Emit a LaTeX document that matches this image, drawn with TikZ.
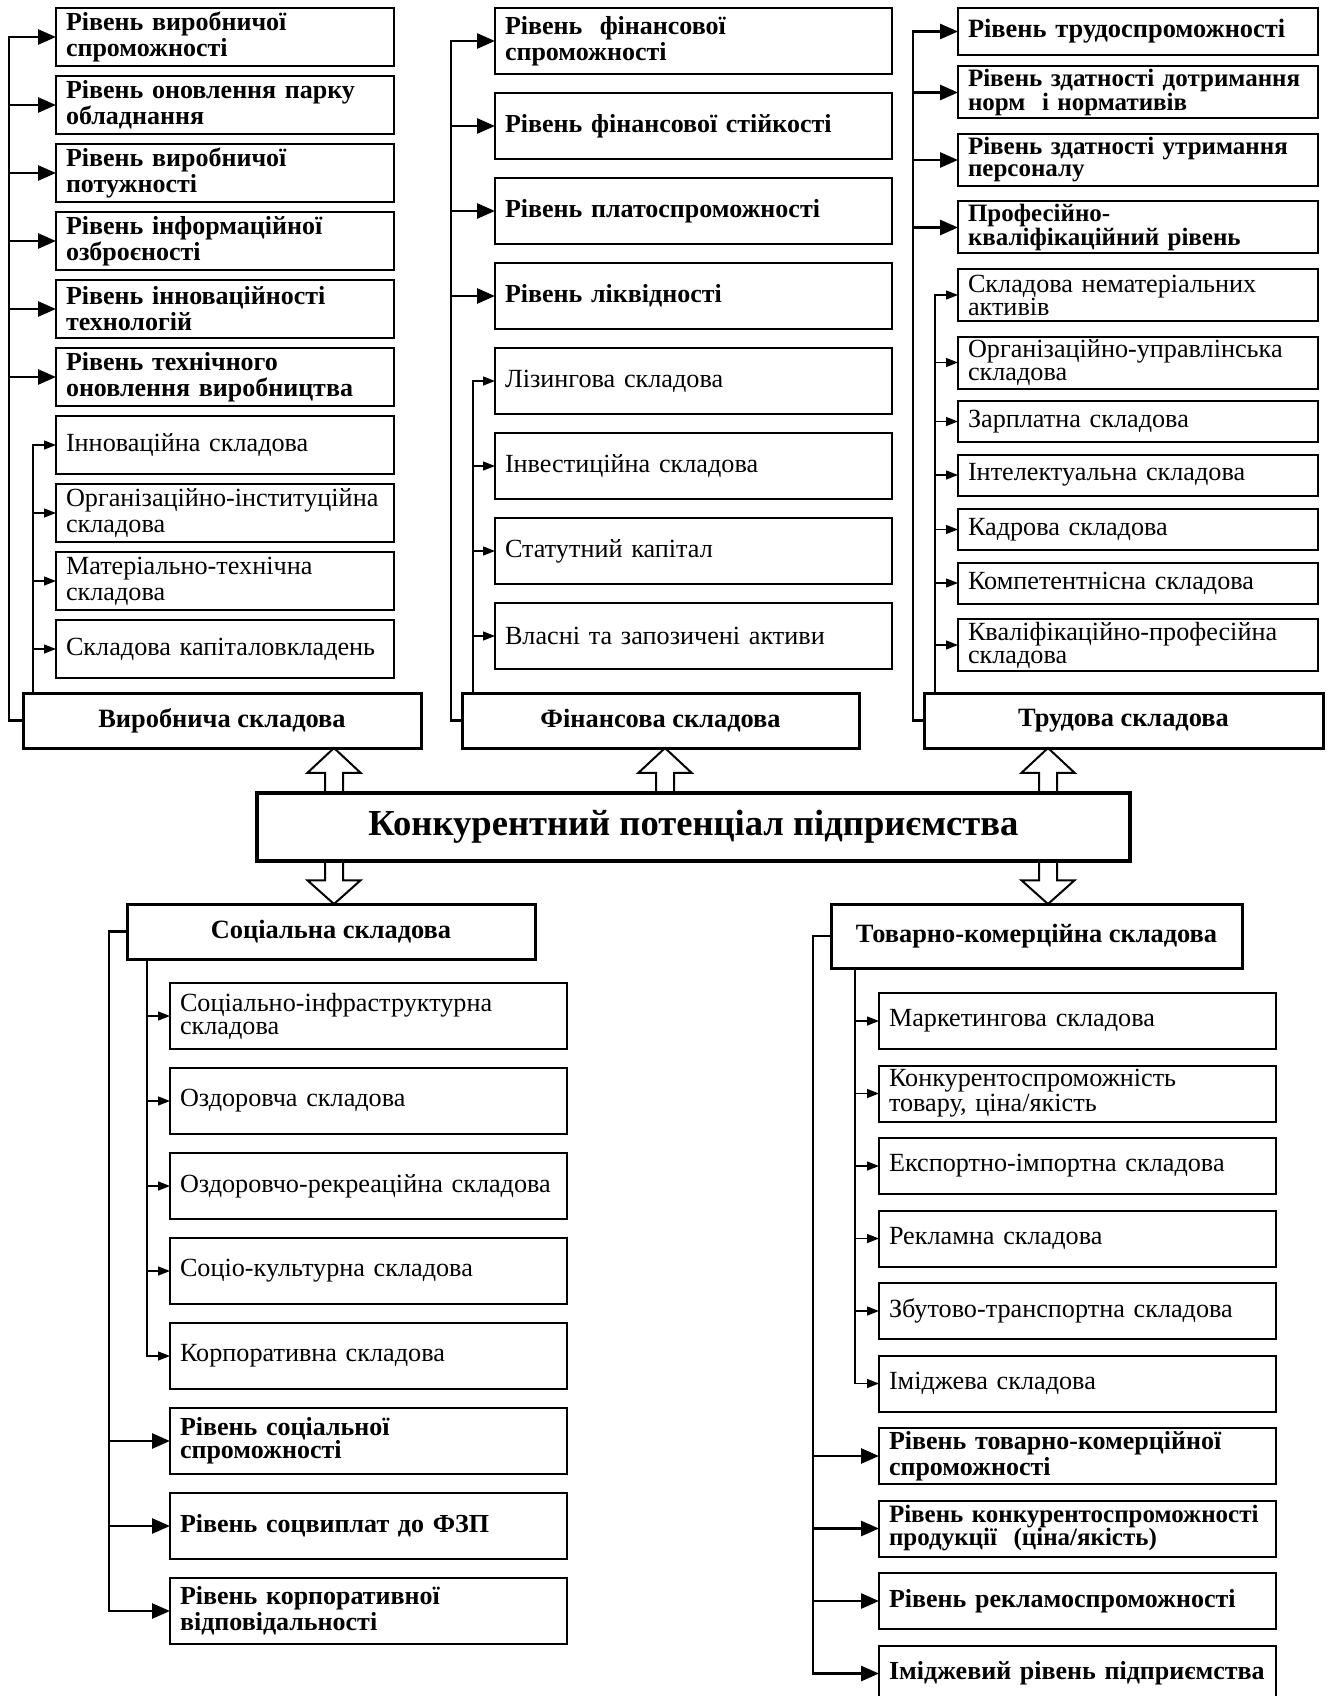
\documentclass[tikz,border=0pt]{standalone}
\usepackage{fontspec}
\setmainfont{Liberation Serif}
\usetikzlibrary{positioning, arrows.meta, calc}

% hollow block arrow between two points on one vertical
\newcommand{\fatarrow}[2]{%
  \draw[fatarr] ($(#1)+(-9,0)$) -- ($(#1)!0.45!(#2)+(-9,0)$)
    -- ($(#1)!0.45!(#2)+(-26.5,0)$) -- (#2)
    -- ($(#1)!0.45!(#2)+(26.5,0)$) -- ($(#1)!0.45!(#2)+(9,0)$)
    -- ($(#1)+(9,0)$);}

\begin{document}
\begin{tikzpicture}[
    x=0.5pt, y=-0.5pt,
    font=\fontsize{13.1}{11.5}\selectfont,
    box/.style={
        rectangle, draw=black, line width=1pt, align=left, outer sep=0pt,
        inner xsep=5pt, inner ysep=0pt, anchor=north west
    },
    part/.style={box},
    lvl/.style={box, font=\fontsize{13}{11.5}\selectfont\bfseries},
    colA/.style={text width=159pt, minimum height=29pt, font=\fontsize{13.1}{13}\selectfont},
    colAb/.style={colA, font=\fontsize{13}{13}\selectfont\bfseries},
    colB/.style={text width=188.5pt, minimum height=33pt},
    colC/.style={text width=170pt, minimum height=#1},
    colCb/.style={colC=#1, font=\fontsize{12.5}{11}\selectfont\bfseries},
    colD/.style={text width=188.5pt, minimum height=33pt},
    colE/.style={text width=188.5pt, minimum height=28pt},
    comp/.style={
        rectangle, draw=black, line width=1.5pt, align=center, outer sep=0pt,
        font=\fontsize{13.2}{14}\selectfont\bfseries, minimum height=27.5pt
    },
    core/.style={
        rectangle, draw=black, line width=1.6pt, align=center, outer sep=0pt,
        font=\fontsize{18.3}{20}\selectfont\bfseries,
        minimum width=436.5pt, minimum height=34pt
    },
    bus/.style={line width=1.35pt},
    busarr/.style={line width=1.35pt, -{Triangle[length=9pt, width=7.5pt]}},
    fine/.style={line width=0.65pt},
    finearr/.style={line width=0.65pt, -{Triangle[length=6pt, width=4.5pt]}},
    fatarr/.style={line width=1pt, fill=none}
]
\clip (0,0) rectangle (1330,1696);

% ---------------- Production ----------------
\node[lvl, colAb] at (56,8) (pv1) {Рівень виробничої\\спроможності};
\node[lvl, colAb, below=5pt of pv1] (pv2) {Рівень оновлення парку\\обладнання};
\node[lvl, colAb, below=5pt of pv2] (pv3) {Рівень виробничої\\потужності};
\node[lvl, colAb, below=5pt of pv3] (pv4) {Рівень інформаційної\\озброєності};
\node[lvl, colAb, below=5pt of pv4] (pv5) {Рівень інноваційності\\технологій};
\node[lvl, colAb, below=5pt of pv5] (pv6) {Рівень технічного\\оновлення виробництва};
\node[part, colA, below=5pt of pv6] (pc1) {Інноваційна складова};
\node[part, colA, below=5pt of pc1] (pc2) {Організаційно-інституційна\\складова};
\node[part, colA, below=5pt of pc2] (pc3) {Матеріально-технічна\\складова};
\node[part, colA, below=5pt of pc3] (pc4) {Складова капіталовкладень};
\node[comp, minimum width=199pt] at (222,720.5) (prod) {Виробнича складова};

% ---------------- Finance ----------------
\node[lvl, colB] at (495,8) (fv1) {Рівень\ \ фінансової\\спроможності};
\node[lvl, colB, below=9.5pt of fv1] (fv2) {Рівень фінансової стійкості};
\node[lvl, colB, below=9.5pt of fv2] (fv3) {Рівень платоспроможності};
\node[lvl, colB, below=9.5pt of fv3] (fv4) {Рівень ліквідності};
\node[part, colB, below=9.5pt of fv4] (fc1) {Лізингова складова};
\node[part, colB, below=9.5pt of fc1] (fc2) {Інвестиційна складова};
\node[part, colB, below=9.5pt of fc2] (fc3) {Статутний капітал};
\node[part, colB, below=9.5pt of fc3] (fc4) {Власні та запозичені активи};
\node[comp, minimum width=198.5pt] at (660.5,720.5) (fin) {Фінансова складова};

% ---------------- Labour ----------------
\node[lvl, colCb=23.5pt, font=\fontsize{13.2}{11}\selectfont\bfseries] at (958,8) (lv1) {Рівень трудоспроможності};
\node[lvl, colCb=26pt, below=5.75pt of lv1] (lv2) {Рівень здатності дотримання\\норм\ \ і нормативів};
\node[lvl, colCb=26pt, below=7.75pt of lv2] (lv3) {Рівень здатності утримання\\персоналу};
\node[lvl, colCb=26pt, below=7.75pt of lv3] (lv4) {Професійно-\\кваліфікаційний рівень};
\node[part, colC=26pt, below=7.75pt of lv4] (lc1) {Складова нематеріальних\\активів};
\node[part, colC=26pt, below=7.75pt of lc1] (lc2) {Організаційно-управлінська\\складова};
\node[part, colC=20.5pt, below=6.25pt of lc2] (lc3) {Зарплатна складова};
\node[part, colC=20.5pt, below=6.25pt of lc3] (lc4) {Інтелектуальна складова};
\node[part, colC=20.5pt, below=6.75pt of lc4] (lc5) {Кадрова складова};
\node[part, colC=20.5pt, below=6.25pt of lc5] (lc6) {Компетентнісна складова};
\node[part, colC=26pt, below=7.75pt of lc6] (lc7) {Кваліфікаційно-професійна\\складова};
\node[comp, minimum width=199.5pt] at (1123.5,720.5) (labour) {Трудова складова};

% ---------------- Core ----------------
\node[core] at (693.5,827) (core) {Конкурентний потенціал підприємства};

% ---------------- Social ----------------
\node[comp, minimum width=204pt] at (331,931.5) (social) {Соціальна складова};
\node[part, colD] at (170,983) (sc1) {Соціально-інфраструктурна\\складова};
\node[part, colD, below=9.5pt of sc1] (sc2) {Оздоровча складова};
\node[part, colD, below=9.5pt of sc2] (sc3) {Оздоровчо-рекреаційна складова};
\node[part, colD, below=9.5pt of sc3] (sc4) {Соціо-культурна складова};
\node[part, colD, below=9.5pt of sc4] (sc5) {Корпоративна складова};
\node[lvl, colD, below=9.5pt of sc5] (sv1) {Рівень соціальної\\спроможності};
\node[lvl, colD, below=9.5pt of sv1] (sv2) {Рівень соцвиплат до ФЗП};
\node[lvl, colD, below=9.5pt of sv2] (sv3) {Рівень корпоративної\\відповідальності};

% ---------------- Trade ----------------
\node[comp, minimum width=205.5pt, minimum height=32pt] at (1036.5,936) (trade) {Товарно-комерційна складова};
\node[part, colE] at (879,993) (tc1) {Маркетингова складова};
\node[part, colE, below=8.25pt of tc1] (tc2) {Конкурентоспроможність\\товару, ціна/якість};
\node[part, colE, below=8.25pt of tc2] (tc3) {Експортно-імпортна складова};
\node[part, colE, below=8.25pt of tc3] (tc4) {Рекламна складова};
\node[part, colE, below=8.25pt of tc4] (tc5) {Збутово-транспортна складова};
\node[part, colE, below=8.25pt of tc5] (tc6) {Іміджева складова};
\node[lvl, colE, below=8.25pt of tc6] (tv1) {Рівень товарно-комерційної\\спроможності};
\node[lvl, colE, below=8.25pt of tv1, font=\fontsize{12.5}{11.5}\selectfont\bfseries] (tv2) {Рівень конкурентоспроможності\\продукції\ \ (ціна/якість)};
\node[lvl, colE, below=8.25pt of tv2] (tv3) {Рівень рекламоспроможності};
\node[lvl, colE, below=8.25pt of tv3] (tv4) {Іміджевий рівень підприємства};

% ---------------- Bus lines ----------------
\coordinate (ptrunk) at (9,0);
\coordinate (pbranch) at (33,0);
\coordinate (ftrunk) at (451,0);
\coordinate (fbranch) at (473,0);
\coordinate (ltrunk) at (913,0);
\coordinate (lbranch) at (935,0);
\coordinate (strunk) at (109,0);
\coordinate (sbranch) at (147,0);
\coordinate (ttrunk) at (813,0);
\coordinate (tbranch) at (855,0);

\draw[busarr] (prod.west) -| (ptrunk |- pv1.west) -- (pv1.west);
\draw[busarr] (ptrunk |- pv2.west) -- (pv2.west);
\draw[busarr] (ptrunk |- pv3.west) -- (pv3.west);
\draw[busarr] (ptrunk |- pv4.west) -- (pv4.west);
\draw[busarr] (ptrunk |- pv5.west) -- (pv5.west);
\draw[busarr] (ptrunk |- pv6.west) -- (pv6.west);
\draw[finearr] (prod.north -| pbranch) |- (pc1.west);
\draw[finearr] (pbranch |- pc2.west) -- (pc2.west);
\draw[finearr] (pbranch |- pc3.west) -- (pc3.west);
\draw[finearr] (pbranch |- pc4.west) -- (pc4.west);

\draw[busarr] (fin.west) -| (ftrunk |- fv1.west) -- (fv1.west);
\draw[busarr] (ftrunk |- fv2.west) -- (fv2.west);
\draw[busarr] (ftrunk |- fv3.west) -- (fv3.west);
\draw[busarr] (ftrunk |- fv4.west) -- (fv4.west);
\draw[finearr] (fin.north -| fbranch) |- (fc1.west);
\draw[finearr] (fbranch |- fc2.west) -- (fc2.west);
\draw[finearr] (fbranch |- fc3.west) -- (fc3.west);
\draw[finearr] (fbranch |- fc4.west) -- (fc4.west);

\draw[busarr] (labour.west) -| (ltrunk |- lv1.west) -- (lv1.west);
\draw[busarr] (ltrunk |- lv2.west) -- (lv2.west);
\draw[busarr] (ltrunk |- lv3.west) -- (lv3.west);
\draw[busarr] (ltrunk |- lv4.west) -- (lv4.west);
\draw[finearr] (labour.north -| lbranch) |- (lc1.west);
\draw[finearr] (lbranch |- lc2.west) -- (lc2.west);
\draw[finearr] (lbranch |- lc3.west) -- (lc3.west);
\draw[finearr] (lbranch |- lc4.west) -- (lc4.west);
\draw[finearr] (lbranch |- lc5.west) -- (lc5.west);
\draw[finearr] (lbranch |- lc6.west) -- (lc6.west);
\draw[finearr] (lbranch |- lc7.west) -- (lc7.west);

\draw[busarr] (social.west) -| (strunk |- sv3.west) -- (sv3.west);
\draw[busarr] (strunk |- sv1.west) -- (sv1.west);
\draw[busarr] (strunk |- sv2.west) -- (sv2.west);
\draw[finearr] (social.south -| sbranch) |- (sc5.west);
\draw[finearr] (sbranch |- sc1.west) -- (sc1.west);
\draw[finearr] (sbranch |- sc2.west) -- (sc2.west);
\draw[finearr] (sbranch |- sc3.west) -- (sc3.west);
\draw[finearr] (sbranch |- sc4.west) -- (sc4.west);

\draw[busarr] (trade.west) -| (ttrunk |- tv4.west) -- (tv4.west);
\draw[busarr] (ttrunk |- tv1.west) -- (tv1.west);
\draw[busarr] (ttrunk |- tv2.west) -- (tv2.west);
\draw[busarr] (ttrunk |- tv3.west) -- (tv3.west);
\draw[finearr] (trade.south -| tbranch) |- (tc6.west);
\draw[finearr] (tbranch |- tc1.west) -- (tc1.west);
\draw[finearr] (tbranch |- tc2.west) -- (tc2.west);
\draw[finearr] (tbranch |- tc3.west) -- (tc3.west);
\draw[finearr] (tbranch |- tc4.west) -- (tc4.west);
\draw[finearr] (tbranch |- tc5.west) -- (tc5.west);

% ---------------- Hollow arrows ----------------
\coordinate (arrA) at (334,0);
\coordinate (arrB) at (665,0);
\coordinate (arrC) at (1048,0);
\fatarrow{core.north -| arrA}{prod.south -| arrA}
\fatarrow{core.north -| arrB}{fin.south -| arrB}
\fatarrow{core.north -| arrC}{labour.south -| arrC}
\fatarrow{core.south -| arrA}{social.north -| arrA}
\fatarrow{core.south -| arrC}{trade.north -| arrC}

\end{tikzpicture}
\end{document}
